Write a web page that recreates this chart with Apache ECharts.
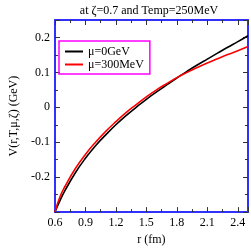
<!DOCTYPE html>
<html><head><meta charset="utf-8">
<script src="https://cdn.jsdelivr.net/npm/echarts@6/dist/echarts.min.js"></script>
<style>html,body{margin:0;padding:0;background:#fff}#c{width:251px;height:251px}</style>
</head><body><div id="c"></div>
<script>
const rValues = [0.6, 0.65, 0.7, 0.8, 0.9, 1.0, 1.1, 1.2, 1.3, 1.4, 1.5, 1.6, 1.7, 1.8, 1.9, 2.0, 2.1, 2.2, 2.3, 2.4, 2.5];
const vMu0   = [-0.300, -0.267, -0.238, -0.188, -0.146, -0.110, -0.079, -0.050, -0.024, 0.000, 0.023, 0.044, 0.064, 0.084, 0.103, 0.121, 0.138, 0.155, 0.172, 0.188, 0.205];
const vMu300 = [-0.300, -0.256, -0.226, -0.176, -0.135, -0.100, -0.069, -0.041, -0.015, 0.008, 0.030, 0.050, 0.068, 0.085, 0.100, 0.114, 0.127, 0.139, 0.151, 0.162, 0.174];
const seriesNames = ['μ=0GeV', 'μ=300MeV'];
const xTicks = {min: 0.6, max: 2.5, interval: 0.3};
const yTicks = {min: -0.3, max: 0.25, interval: 0.1};
const yLabels = ['-0.2', '-0.1', '0', '0.1', '0.2'];
const titleText = 'at ζ=0.7 and Temp=250MeV';

const serif = 'Liberation Serif';
const blue = '#3030ff';
const tickStyle = {color: '#333', width: 1};
function fmtY(v){
  const r = Math.round(v*10)/10;
  if (Math.abs(v - r) > 1e-6) return '';
  const s = r === 0 ? '0' : String(r);
  return yLabels.indexOf(s) >= 0 ? s : '';
}
function fmtX(v){
  const r = Math.round(v*10)/10;
  if (Math.abs(v - r) > 1e-6 || v > 2.45) return '';
  return r.toFixed(1);
}

const chart = echarts.init(document.getElementById('c'), null, {renderer: 'canvas'});
const baseX = {
  type: 'value', min: xTicks.min, max: xTicks.max, interval: xTicks.interval,
  axisLine: {show: true, onZero: false, lineStyle: {color: blue, width: 2}},
  axisTick: {show: true, inside: true, length: 5, lineStyle: tickStyle},
  minorTick: {show: true, splitNumber: 2, length: 3, lineStyle: tickStyle},
  splitLine: {show: false}
};
const baseY = {
  type: 'value', min: yTicks.min, max: yTicks.max, interval: yTicks.interval,
  axisLine: {show: true, onZero: false, lineStyle: {color: blue, width: 2}},
  axisTick: {show: true, inside: true, length: 5, lineStyle: tickStyle},
  minorTick: {show: true, splitNumber: 2, length: 3, lineStyle: tickStyle},
  splitLine: {show: false}
};
chart.setOption({
  animation: false,
  backgroundColor: '#fff',
  title: {text: titleText, left: 144, top: 0, textAlign: 'center',
    textStyle: {fontFamily: serif, fontSize: 12, fontWeight: 'normal', color: '#000'}},
  grid: {left: 39, top: 20, right: 2, bottom: 28},
  legend: {
    orient: 'vertical', left: 59, top: 41,
    data: seriesNames,
    borderColor: '#ff00ff', borderWidth: 1.5, padding: [4, 6, 3, 6], itemGap: 0,
    icon: 'rect', itemWidth: 18, itemHeight: 2,
    textStyle: {fontFamily: serif, fontSize: 12, color: '#000', lineHeight: 13}
  },
  xAxis: [
    Object.assign({}, baseX, {position: 'bottom',
      name: 'r (fm)', nameLocation: 'middle', nameGap: 15,
      nameTextStyle: {fontFamily: serif, fontSize: 12, color: '#000'},
      axisLabel: {formatter: fmtX, margin: 5, fontFamily: serif, fontSize: 12, color: '#000'}}),
    Object.assign({}, baseX, {position: 'top', axisLabel: {show: false}})
  ],
  yAxis: [
    Object.assign({}, baseY, {position: 'left',
      name: 'V(r,T,μ,ζ) (GeV)', nameLocation: 'middle', nameGap: 27,
      nameTextStyle: {fontFamily: serif, fontSize: 12, color: '#000'},
      axisLabel: {formatter: fmtY, margin: 5, fontFamily: serif, fontSize: 12, color: '#000'}}),
    Object.assign({}, baseY, {position: 'right', axisLabel: {show: false}})
  ],
  series: [
    {name: seriesNames[0], type: 'line', smooth: true, showSymbol: false, symbol: 'none', clip: true,
      color: '#000', lineStyle: {color: '#000', width: 1.6},
      data: rValues.map((r, i) => [r, vMu0[i]])},
    {name: seriesNames[1], type: 'line', smooth: true, showSymbol: false, symbol: 'none', clip: true,
      color: '#ff0000', lineStyle: {color: '#ff0000', width: 1.6},
      data: rValues.map((r, i) => [r, vMu300[i]])}
  ]
});
</script></body></html>
